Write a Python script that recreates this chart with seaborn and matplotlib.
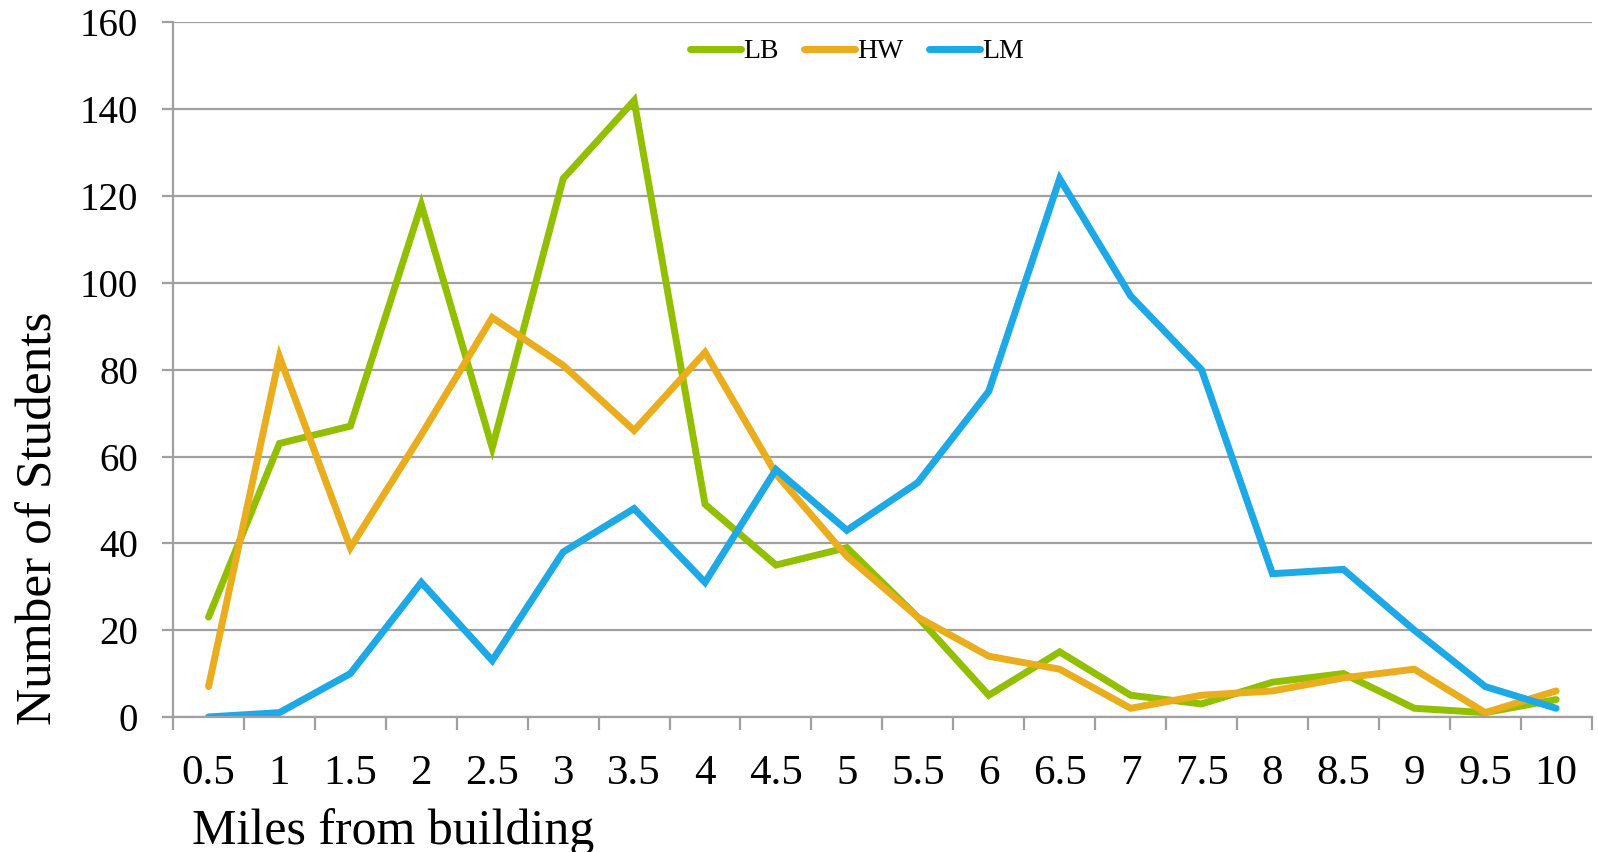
import matplotlib
matplotlib.use("Agg")
import matplotlib.pyplot as plt
import seaborn as sns
import pandas as pd
from matplotlib.ticker import MultipleLocator, FixedLocator

# Distance bands (miles from building)
miles = ["0.5", "1", "1.5", "2", "2.5", "3", "3.5", "4", "4.5", "5",
         "5.5", "6", "6.5", "7", "7.5", "8", "8.5", "9", "9.5", "10"]

# Number of students per distance band for each school
lb = [23, 63, 67, 118, 62, 124, 142, 49, 35, 39,
      23, 5, 15, 5, 3, 8, 10, 2, 1, 4]
hw = [7, 83, 39, 65, 92, 81, 66, 84, 56, 37,
      23, 14, 11, 2, 5, 6, 9, 11, 1, 6]
lm = [0, 1, 10, 31, 13, 38, 48, 31, 57, 43,
      54, 75, 124, 97, 80, 33, 34, 20, 7, 2]

series_names = ["LB", "HW", "LM"]
colors = ["#92C000", "#E9AD1E", "#1DA8E6"]

frames = []
for name, vals in zip(series_names, [lb, hw, lm]):
    frames.append(pd.DataFrame({"Miles": miles, "Students": vals, "School": name}))
df = pd.concat(frames, ignore_index=True)

sns.set_style("white")
plt.rcParams["font.family"] = ["Liberation Serif", "DejaVu Serif"]
plt.rcParams["text.color"] = "black"
plt.rcParams["axes.labelcolor"] = "black"

fig = plt.figure(figsize=(15.98, 8.52), dpi=100)
ax = fig.add_axes([0.1083, 0.1585, 0.8877, 0.8152])

sns.lineplot(data=df, x="Miles", y="Students", hue="School",
             palette=dict(zip(series_names, colors)), hue_order=series_names,
             sort=False, linewidth=5.0, ax=ax, legend=True)
for ln in ax.get_lines():
    ln.set_solid_capstyle("round")
    ln.set_solid_joinstyle("miter")

grid_col = "#A0A0A0"
ax.set_ylim(0, 160)
ax.set_xlim(-0.5, len(miles) - 0.5)
ax.yaxis.set_major_locator(MultipleLocator(20))
ax.yaxis.grid(True, color=grid_col, linewidth=1.6)
ax.xaxis.grid(False)
ax.set_axisbelow(True)

ax.set_xticks(range(len(miles)))
ax.set_xticklabels(miles)
ax.xaxis.set_minor_locator(FixedLocator([i - 0.5 for i in range(len(miles) + 1)]))
ax.tick_params(axis="x", which="major", length=0, pad=27, labelsize=31,
               labelcolor="black")
ax.tick_params(axis="x", which="minor", length=9, width=1.6, color=grid_col,
               direction="out", bottom=True)
ax.tick_params(axis="y", which="major", length=8, width=1.6, color=grid_col,
               direction="out", left=True, pad=17, labelsize=28,
               labelcolor="black")

for side in ["top", "right"]:
    ax.spines[side].set_visible(False)
for side in ["left", "bottom"]:
    ax.spines[side].set_color(grid_col)
    ax.spines[side].set_linewidth(1.6)

ax.set_xlabel("Miles from building", fontsize=36, labelpad=0)
ax.xaxis.set_label_coords(0.013, -0.131)
ax.xaxis.label.set_horizontalalignment("left")
ax.set_ylabel("Number of Students", fontsize=37)
ax.yaxis.set_label_coords(-0.078, 0.286)

leg = ax.legend(loc="center", bbox_to_anchor=(0.482, 0.958), ncol=3, frameon=False,
                fontsize=20, handlelength=1.83, handletextpad=0.1, columnspacing=0.9)
for h in leg.get_lines():
    h.set_linewidth(5)
    h.set_solid_capstyle("round")

fig.savefig("out.png", dpi=100, facecolor="white")
